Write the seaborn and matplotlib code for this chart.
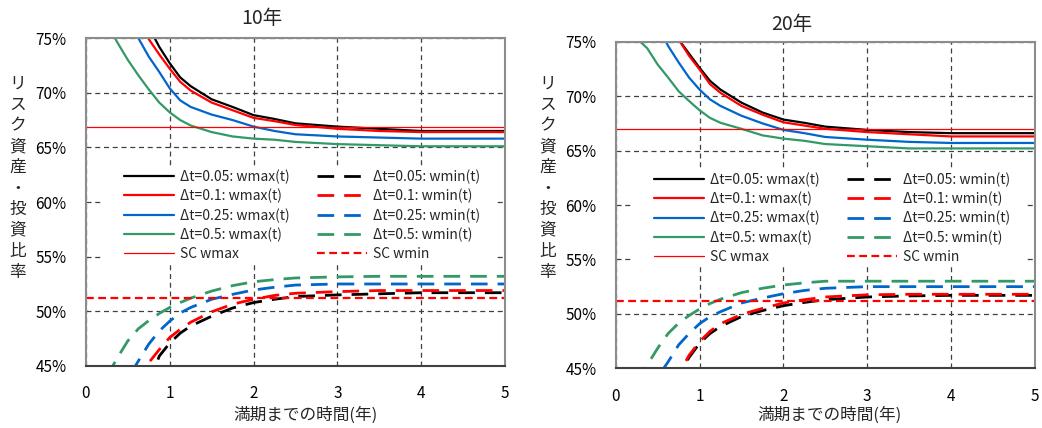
import matplotlib
matplotlib.use("Agg")
import matplotlib.pyplot as plt
import seaborn as sns
from matplotlib.patches import Rectangle
from matplotlib.ticker import FuncFormatter

# time to maturity (years)
t = [0.25, 0.375, 0.5, 0.625, 0.75, 0.875, 1.0, 1.125, 1.25, 1.5,
     1.75, 2.0, 2.25, 2.5, 3.0, 3.5, 4.0, 4.5, 5.0]

dt_labels = ["0.05", "0.1", "0.25", "0.5"]
colors = ["#000000", "#ff0000", "#0066cc", "#339966"]

# 10-year horizon (percent)
wmax10_005 = [85, 82, 79.5, 77.5, 76.0, 74.2, 72.7, 71.4, 70.6, 69.4,
              68.7, 67.95, 67.6, 67.2, 66.9, 66.7, 66.5, 66.5, 66.5]
wmax10_01 = [84, 81, 78.5, 76.6, 74.9, 73.5, 72.2, 71.0, 70.2, 69.1,
             68.4, 67.7, 67.4, 67.05, 66.7, 66.5, 66.4, 66.4, 66.4]
wmax10_025 = [82, 79.5, 77.0, 75.0, 73.3, 71.9, 70.4, 69.3, 68.7, 68.0,
              67.5, 66.9, 66.5, 66.2, 66.0, 65.9, 65.8, 65.8, 65.8]
wmax10_05 = [76.3, 74.6, 73.0, 71.6, 70.3, 69.1, 68.2, 67.5, 67.0, 66.4,
             66.0, 65.8, 65.7, 65.5, 65.3, 65.2, 65.1, 65.1, 65.1]
wmin10_005 = [37, 39, 40.5, 42, 43.4, 45.9, 47.1, 48.0, 48.65, 49.55,
              50.3, 50.8, 51.1, 51.35, 51.5, 51.6, 51.7, 51.7, 51.7]
wmin10_01 = [39, 41, 42.5, 44.04, 45.3, 46.5, 47.6, 48.35, 49.0, 49.95,
             50.65, 51.1, 51.45, 51.65, 51.8, 51.9, 51.9, 51.9, 51.9]
wmin10_025 = [40, 42, 43.85, 45.45, 47.0, 48.2, 49.1, 49.85, 50.35, 51.1,
              51.55, 51.95, 52.2, 52.4, 52.5, 52.5, 52.5, 52.5, 52.5]
wmin10_05 = [44.05, 45.75, 47.3, 48.4, 49.15, 49.8, 50.35, 50.8, 51.2, 51.85,
             52.35, 52.7, 52.9, 53.05, 53.15, 53.2, 53.2, 53.2, 53.2]
sc_wmax10 = 66.9
sc_wmin10 = 51.2

# 20-year horizon (percent)
wmax20_005 = [84, 81.5, 79, 77, 75.2, 73.9, 72.6, 71.4, 70.6, 69.4,
              68.5, 67.85, 67.55, 67.2, 66.9, 66.7, 66.6, 66.6, 66.6]
wmax20_01 = [84, 81.5, 79, 77, 75.2, 73.7, 72.45, 71.1, 70.3, 69.1,
             68.3, 67.6, 67.3, 67.0, 66.7, 66.5, 66.3, 66.3, 66.3]
wmax20_025 = [81, 79, 76.6, 74.6, 73.1, 71.7, 70.6, 69.7, 69.1, 68.2,
              67.5, 66.9, 66.6, 66.25, 66.0, 65.8, 65.7, 65.7, 65.7]
wmax20_05 = [75.3, 74.4, 72.9, 71.7, 70.45, 69.55, 68.7, 68.0, 67.55, 67.0,
             66.4, 66.1, 65.9, 65.6, 65.4, 65.2, 65.2, 65.2, 65.2]
wmin20_005 = [37.5, 39.5, 41.2, 42.8, 44.4, 46.0, 47.3, 48.2, 48.85, 49.75,
              50.3, 50.75, 51.05, 51.3, 51.55, 51.65, 51.7, 51.7, 51.7]
wmin20_01 = [38, 40, 41.5, 43, 44.44, 46.2, 47.45, 48.4, 49.1, 49.95,
             50.5, 51.0, 51.3, 51.55, 51.75, 51.8, 51.8, 51.8, 51.8]
wmin20_025 = [40.5, 42.5, 44.2, 45.6, 47.15, 48.2, 49.1, 49.75, 50.2, 51.0,
              51.45, 51.85, 52.15, 52.35, 52.5, 52.5, 52.5, 52.5, 52.5]
wmin20_05 = [43.8, 45.3, 46.85, 48.2, 49.15, 49.85, 50.45, 50.95, 51.35, 51.95,
             52.35, 52.65, 52.85, 53.0, 53.0, 53.0, 53.0, 53.0, 53.0]
sc_wmax20 = 67.0
sc_wmin20 = 51.2

xticks = [0, 1, 2, 3, 4, 5]
yticks = [45, 50, 55, 60, 65, 70, 75]

sns.set_style("white")
plt.rcParams['font.family'] = ['Noto Sans CJK JP', 'DejaVu Sans']

fig = plt.figure(figsize=(10.42, 4.28), dpi=100)
ax1 = fig.add_axes([0.0825, 0.145, 0.402, 0.766])
ax2 = fig.add_axes([0.591, 0.1395, 0.402, 0.763])

wmin_dash = (0, (6, 3.6))


def draw_panel(ax, wmax, wmin, sc_max, sc_min):
    handles_max, handles_min = [], []
    for i, lab in enumerate(dt_labels):
        sns.lineplot(x=t, y=wmax[i], ax=ax, color=colors[i], linewidth=1.6)
        handles_max.append(ax.lines[-1])
        handles_max[-1].set_label(f"Δt={lab}: wmax(t)")
    for i, lab in enumerate(dt_labels):
        sns.lineplot(x=t, y=wmin[i], ax=ax, color=colors[i], linewidth=2.0,
                     linestyle=wmin_dash)
        handles_min.append(ax.lines[-1])
        handles_min[-1].set_label(f"Δt={lab}: wmin(t)")
    l1 = ax.axhline(sc_max, color="#ff0000", lw=0.9, label="SC wmax")
    l2 = ax.axhline(sc_min, color="#ff0000", lw=1.6, ls=(0, (3.5, 2)), label="SC wmin")
    handles = handles_max + [l1] + handles_min + [l2]

    ax.set_xlim(0, 5)
    ax.set_ylim(45, 75)
    ax.set_xticks(xticks)
    ax.set_yticks(yticks)
    ax.yaxis.set_major_formatter(FuncFormatter(lambda v, p: f"{v:.0f}%"))
    ax.set_axisbelow(True)
    ax.grid(True, color="#404040", lw=0.9, ls=(0, (4, 3)))
    ax.tick_params(length=0, labelsize=11, colors="#000000")
    ax.tick_params(axis="y", pad=14)
    ax.tick_params(axis="x", pad=14)
    ax.set_xlabel("")
    ax.set_ylabel("")
    for s in ax.spines.values():
        s.set_color("#8c8c8c")
        s.set_linewidth(1.5)
    ax.spines["bottom"].set_color("#404040")

    # white area behind the legend
    ax.add_patch(Rectangle((0.043, 0.311), 0.937, 0.3, transform=ax.transAxes,
                           facecolor="white", edgecolor="none", zorder=1))
    ax.legend(handles=handles, ncol=2, frameon=False, fontsize=10,
              loc="center left", bbox_to_anchor=(0.075, 0.46),
              handlelength=3.6, handletextpad=0.4, columnspacing=2.0,
              labelspacing=0.35, borderpad=0)


draw_panel(ax1, [wmax10_005, wmax10_01, wmax10_025, wmax10_05],
           [wmin10_005, wmin10_01, wmin10_025, wmin10_05], sc_wmax10, sc_wmin10)
draw_panel(ax2, [wmax20_005, wmax20_01, wmax20_025, wmax20_05],
           [wmin20_005, wmin20_01, wmin20_025, wmin20_05], sc_wmax20, sc_wmin20)

ylab = "\n".join("リスク資産・投資比率")
for tx, ty, title, yx, xx in [(262, 19, "10年", 18, 305), (792, 24, "20年", 548, 829)]:
    fig.text(tx / 1042, 1 - ty / 428, title, ha="center", va="center", fontsize=14)
    fig.text(yx / 1042, 1 - 178 / 428, ylab, ha="center", va="center",
             fontsize=12, linespacing=1.3)
    fig.text(xx / 1042, 1 - 415 / 428, "満期までの時間(年)", ha="center", va="center",
             fontsize=12)

fig.savefig("out.png", dpi=100)
